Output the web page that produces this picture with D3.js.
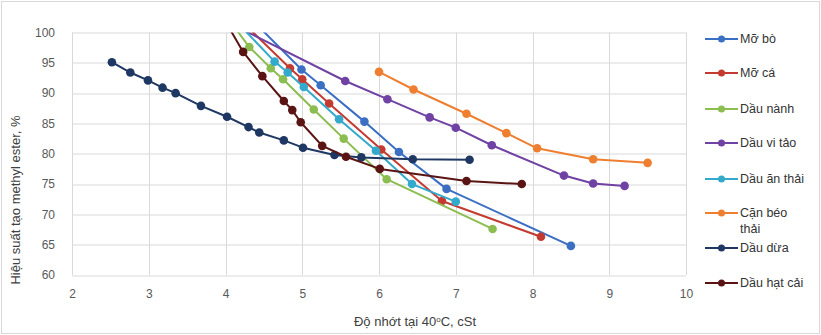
<!DOCTYPE html>
<html>
<head>
<meta charset="utf-8">
<script src="https://cdn.jsdelivr.net/npm/d3@7"></script>
<style>
  body { margin: 0; background: #fff; }
  svg { display: block; font-family: "Liberation Sans", Arial, sans-serif; }
  .grid line { stroke: #d9d9d9; stroke-width: 1; }
  .tick text { fill: #595959; font-size: 12px; }
  .axisTitle { fill: #404040; font-size: 13px; }
  .legend text { fill: #333; font-size: 12.5px; }
</style>
</head>
<body>
<script>

// series names, in legend order
var names = ["Mỡ bò", "Mỡ cá", "Dầu nành", "Dầu vi tảo", "Dầu ăn thải", "Cặn béo thải", "Dầu dừa", "Dầu hạt cải"];
var colors = ["#3a6fc4", "#c33b30", "#8cbd50", "#6f42a3", "#33a9cc", "#ef7f30", "#1f3763", "#5b1414"];

// [viscosity cSt, yield %]; the first point of some series lies just above 100 (cut off by the axis)
var moBo = [[4.47, 100.5], [4.99, 93.9], [5.24, 91.3], [5.81, 85.3], [6.26, 80.3], [6.88, 74.2], [8.50, 64.8]];
var moCa = [[4.32, 100.5], [4.84, 94.1], [5.0, 92.3], [5.35, 88.3], [6.03, 80.7], [6.82, 72.2], [8.11, 66.3]];
var dauNanh = [[4.14, 100.5], [4.31, 97.6], [4.59, 94.1], [4.75, 92.3], [5.15, 87.3], [5.54, 82.5], [6.10, 75.8], [7.48, 67.6]];
var dauViTao = [[4.22, 100.5], [5.56, 92.0], [6.11, 89.0], [6.66, 86.0], [7.0, 84.3], [7.47, 81.4], [8.41, 76.4], [8.79, 75.1], [9.20, 74.7]];
var dauAnThai = [[4.24, 100.5], [4.64, 95.2], [4.81, 93.4], [5.02, 91.0], [5.48, 85.7], [5.96, 80.5], [6.43, 75.0], [7.0, 72.1]];
var canBeoThai = [[6.0, 93.5], [6.45, 90.6], [7.14, 86.6], [7.66, 83.4], [8.06, 80.9], [8.79, 79.1], [9.50, 78.5]];
var dauDua = [[2.52, 95.1], [2.76, 93.4], [2.99, 92.1], [3.18, 90.9], [3.35, 90.0], [3.68, 87.9], [4.02, 86.1], [4.30, 84.4],
              [4.44, 83.5], [4.76, 82.2], [5.01, 81.0], [5.42, 79.8], [5.77, 79.4], [6.44, 79.1], [7.18, 79.0]];
var dauHatCai = [[4.06, 100.5], [4.23, 96.8], [4.48, 92.8], [4.76, 88.7], [4.87, 87.2], [4.98, 85.2], [5.26, 81.3],
                 [5.57, 79.5], [6.01, 77.5], [7.14, 75.5], [7.86, 75.0]];

var xTicks = [2, 3, 4, 5, 6, 7, 8, 9, 10];
var yTicks = [60, 65, 70, 75, 80, 85, 90, 95, 100];

var series = [moBo, moCa, dauNanh, dauViTao, dauAnThai, canBeoThai, dauDua, dauHatCai].map(function(d, i){
	return {name: names[i], color: colors[i], values: d};
});

var width = 821, height = 335;
var margin = {left: 72, top: 32.5, right: 135, bottom: 60};
var w = width - margin.left - margin.right;
var h = height - margin.top - margin.bottom;

var x = d3.scaleLinear().domain([2, 10]).range([0, w]);
var y = d3.scaleLinear().domain([60, 100]).range([h, 0]);

var svg = d3.select("body").append("svg")
	.attr("width", width).attr("height", height);

svg.append("rect")
	.attr("x", 1.5).attr("y", 1.5)
	.attr("width", width - 3).attr("height", height - 3)
	.attr("fill", "none").attr("stroke", "#d9d9d9");

var chartGroup = svg.append("g")
	.attr("transform", "translate(" + margin.left + "," + margin.top + ")");

// gridlines
var grid = chartGroup.append("g").attr("class", "grid");
grid.selectAll(".gx").data(xTicks).enter().append("line")
	.attr("x1", function(d){ return Math.round(x(d)) + 0.5; })
	.attr("x2", function(d){ return Math.round(x(d)) + 0.5; })
	.attr("y1", 0).attr("y2", h);
grid.selectAll(".gy").data(yTicks).enter().append("line")
	.attr("y1", function(d){ return Math.round(y(d)) + 0.5; })
	.attr("y2", function(d){ return Math.round(y(d)) + 0.5; })
	.attr("x1", 0).attr("x2", w);

var xAxis = d3.axisBottom(x).tickValues(xTicks).tickSize(0).tickPadding(14);
var yAxis = d3.axisLeft(y).tickValues(yTicks).tickSize(0).tickPadding(17);

chartGroup.append("g").attr("transform", "translate(0," + h + ")").call(xAxis)
	.call(function(g){ g.select(".domain").remove(); });
chartGroup.append("g").call(yAxis)
	.call(function(g){ g.select(".domain").remove(); });

svg.append("clipPath").attr("id", "plotClip")
	.append("rect").attr("x", 0).attr("y", 0).attr("width", w).attr("height", h);

var line = d3.line()
	.x(function(d){ return x(d[0]); })
	.y(function(d){ return y(d[1]); });

var plot = chartGroup.append("g").attr("clip-path", "url(#plotClip)");

series.forEach(function(s){
	var g = plot.append("g");
	g.append("path")
		.attr("d", line(s.values))
		.attr("fill", "none")
		.attr("stroke", s.color)
		.attr("stroke-width", 2)
		.attr("stroke-linejoin", "round");
	g.selectAll("circle").data(s.values.filter(function(d){ return d[1] <= 100; }))
		.enter().append("circle")
		.attr("cx", function(d){ return x(d[0]); })
		.attr("cy", function(d){ return y(d[1]); })
		.attr("r", 4.3)
		.attr("fill", s.color);
});

// axis titles
var xt = svg.append("text")
	.attr("class", "axisTitle")
	.attr("x", 415).attr("y", 326)
	.style("text-anchor", "middle");
xt.append("tspan").text("Độ nhớt tại 40");
xt.append("tspan").attr("dy", -4).style("font-size", "8px").text("o");
xt.append("tspan").attr("dy", 4).text("C, cSt");

svg.append("text")
	.attr("class", "axisTitle")
	.attr("transform", "translate(20,200) rotate(-90)")
	.style("text-anchor", "middle")
	.text("Hiệu suất tạo methyl ester, %");

// legend
var legendY = [39, 73, 109, 143, 179, 213, 248, 283];
var region = svg.selectAll(".legend").data(series)
	.enter().append("g")
	.attr("class", "legend")
	.attr("transform", function(d, i){ return "translate(0," + legendY[i] + ")"; });
region.append("line")
	.attr("x1", 705).attr("x2", 738).attr("y1", 0).attr("y2", 0)
	.attr("stroke", function(d){ return d.color; })
	.attr("stroke-width", 2);
region.append("circle")
	.attr("cx", 721.5).attr("cy", 0).attr("r", 3.5)
	.attr("fill", function(d){ return d.color; });
region.append("text")
	.attr("x", 740).attr("dy", "0.35em")
	.each(function(d){
		var t = d3.select(this);
		if (d.name === "Cặn béo thải") {
			t.append("tspan").attr("x", 740).text("Cặn béo");
			t.append("tspan").attr("x", 740).attr("dy", 16).text("thải");
		} else {
			t.text(d.name);
		}
	});

</script>
</body>
</html>
